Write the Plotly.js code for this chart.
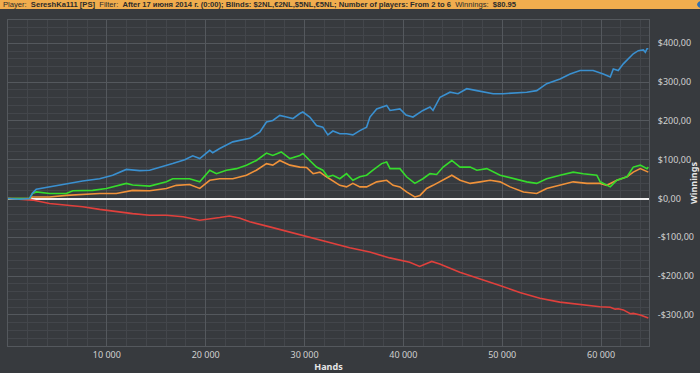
<!DOCTYPE html>
<html>
<head>
<meta charset="utf-8">
<script src="https://cdn.plot.ly/plotly-3.0.1.min.js"></script>
<style>
html,body{margin:0;padding:0;background:#373a3e;}
#chart{width:700px;height:373px;}
</style>
</head>
<body>
<div id="chart"></div>
<script>
// ---- data (hands, dollars) ----
const blueHands = [0,1160,2180,2480,2860,4200,5900,7550,9270,10590,11970,13320,14330,15350,16660,17880,18690,19400,20410,20710,21420,22740,24460,25470,26150,26790,27500,28180,28820,29520,29830,30530,31210,31850,32360,32870,33570,34250,34890,35600,36280,36620,37300,38310,38650,39650,40270,40970,41980,42690,43000,43710,44720,45530,46410,47430,48440,49080,50090,51480,52480,53490,54500,55850,56870,57880,59200,60220,60930,61240,61740,62250,62760,63260,63770,64280,64480,64650,64780];
const blueWin = [0,-2,0,14,24,30,38,45,51,60,75,72,73,80,90,100,110,103,124,118,129,146,155,171,197,201,214,210,206,219,223,210,188,184,164,174,167,167,164,175,184,210,231,240,227,231,215,210,227,236,227,261,274,270,283,278,274,270,270,272,274,278,296,308,321,330,330,321,313,334,330,347,360,373,381,383,377,386,386];

const greenHands = [0,1160,2180,2480,2860,4200,5900,6560,8560,9950,11970,12610,14330,16030,16660,18370,19400,20410,21090,22100,23110,24120,25130,26150,26790,27640,28520,29520,29830,30530,31210,31850,32360,32870,33570,34250,34890,35600,36280,36920,37800,38310,38650,39650,40320,41160,41980,42690,43370,44020,44900,45740,46760,47430,48440,49790,51110,52480,53490,54500,55850,57180,58200,59570,59910,60930,61600,62620,63260,63970,64650,64780];
const greenWin = [0,-1,0,13,17,13,13,20,21,26,39,35,32,43,51,51,43,73,64,73,77,86,98,117,111,120,103,111,116,98,81,73,56,60,51,64,47,56,60,73,90,94,77,77,56,39,51,64,62,81,98,81,81,73,77,60,51,43,39,51,60,68,64,60,43,30,47,56,81,86,77,81];

const orangeHands = [0,1160,2180,2480,4200,5900,9270,10960,12610,14330,16030,17030,18370,19400,20410,21420,22740,24120,25130,26150,26790,27500,28520,29520,30200,30870,31550,32220,32730,33570,34250,34890,35600,36280,37300,38310,38960,39650,40320,41160,41680,42360,43000,44020,44900,45740,46760,47770,48780,49790,50800,52150,53490,54500,55850,57180,58570,59910,60580,61600,62620,63260,63970,64780];
const orangeWin = [0,-1,0,4,4,8,13,13,21,20,26,34,36,26,47,51,51,60,73,90,86,98,86,81,80,64,68,56,47,34,30,39,30,30,43,47,34,30,17,4,8,26,34,47,60,47,39,43,47,43,30,17,13,26,34,43,39,39,34,47,56,68,77,68];

const redHands = [0,1160,2180,2480,4200,5900,7550,9270,10960,12610,14330,16030,17710,19400,21420,22400,23400,24460,26490,29520,31550,34570,36600,38620,40640,41650,42870,43680,45710,47730,49760,51780,53810,55830,57860,59880,60930,61430,61740,62250,62960,63260,63970,64480,64780];
const redWin = [0,-1,-2,-4,-13,-17,-21,-28,-34,-39,-43,-43,-47,-56,-49,-45,-50,-60,-73,-94,-107,-127,-138,-153,-164,-175,-162,-169,-190,-206,-224,-242,-257,-267,-274,-279,-280,-285,-284,-287,-297,-296,-300,-304,-308];

const xTickVals = [10000,20000,30000,40000,50000,60000];
const xTickText = ['10 000','20 000','30 000','40 000','50 000','60 000'];
const yTickVals = [-300,-200,-100,0,100,200,300,400];
const yTickText = ['-$300,00','-$200,00','-$100,00','$0,00','$100,00','$200,00','$300,00','$400,00'];

const headerText = 'Player:  <b>SereshKa111 [PS]</b>  Filter:  <b>After 17 июня 2014 г. (0:00); Blinds: $2NL,€2NL,$5NL,€5NL; Number of players: From 2 to 6</b>  Winnings:  <b>$80.95</b>';

// ---- chart ----
function line(x, y, color) {
  return {x: x, y: y, type: 'scatter', mode: 'lines', line: {color: color, width: 1.6}, hoverinfo: 'skip', showlegend: false};
}
const traces = [
  line(redHands, redWin, '#e0403c'),
  line(orangeHands, orangeWin, '#f0923a'),
  line(greenHands, greenWin, '#36dc2c'),
  line(blueHands, blueWin, '#3a90d0')
];

const gridMajor = '#54585d';
const gridMinor = '#43464b';

const layout = {
  width: 700, height: 373,
  paper_bgcolor: '#373a3e',
  plot_bgcolor: '#373a3e',
  margin: {l: 8, r: 51, t: 20, b: 27, pad: 0},
  font: {family: 'Noto Sans, DejaVu Sans, sans-serif', color: '#cfcfcf', size: 9},
  xaxis: {
    range: [0, 64850],
    tickmode: 'array', tickvals: xTickVals, ticktext: xTickText,
    showgrid: true, gridcolor: gridMajor, gridwidth: 1,
    minor: {tickmode: 'linear', tick0: 0, dtick: 2000, showgrid: true, gridcolor: gridMinor, gridwidth: 1},
    zeroline: false,
    showline: true, linecolor: gridMajor, mirror: true,
    ticks: '', tickfont: {size: 9, color: '#d0d0d0'},
    title: {text: '<b>Hands</b>', font: {size: 9, color: '#e6e6e6'}, standoff: 4}
  },
  yaxis: {
    side: 'right',
    range: [-380, 460],
    tickmode: 'array', tickvals: yTickVals, ticktext: yTickText,
    showgrid: true, gridcolor: gridMajor, gridwidth: 1,
    minor: {tickmode: 'linear', tick0: 0, dtick: 20, showgrid: true, gridcolor: gridMinor, gridwidth: 1},
    zeroline: true, zerolinecolor: '#f2f2f2', zerolinewidth: 2,
    showline: true, linecolor: gridMajor, mirror: true,
    ticks: '', ticklabelstandoff: 6, tickfont: {size: 9, color: '#d0d0d0'},
    title: {text: '<b>Winnings</b>', font: {size: 9, color: '#e6e6e6'}, standoff: 6}
  },
  shapes: [
    {type: 'rect', xref: 'paper', yref: 'paper', x0: -0.02, x1: 1.1, y0: 1.0 + 11/326, y1: 1.0 + 20/326 + 0.01,
     fillcolor: '#f0ad4e', line: {width: 0}, layer: 'above'},
    {type: 'circle', xref: 'paper', yref: 'paper', x0: 1.075, x1: 1.09, y0: 1.0 + 12/326, y1: 1.0 + 19/326,
     fillcolor: '#2f6fb0', line: {width: 0}, layer: 'above'}
  ],
  annotations: [
    {text: headerText, xref: 'paper', yref: 'paper', x: -7/641, y: 1.0 + 15.5/326, xanchor: 'left', yanchor: 'middle',
     showarrow: false, font: {family: 'Liberation Sans Narrow, Liberation Sans, sans-serif', size: 7.6, color: '#2b2b2b'}}
  ]
};

Plotly.newPlot('chart', traces, layout, {displayModeBar: false, staticPlot: true});
</script>
</body>
</html>
